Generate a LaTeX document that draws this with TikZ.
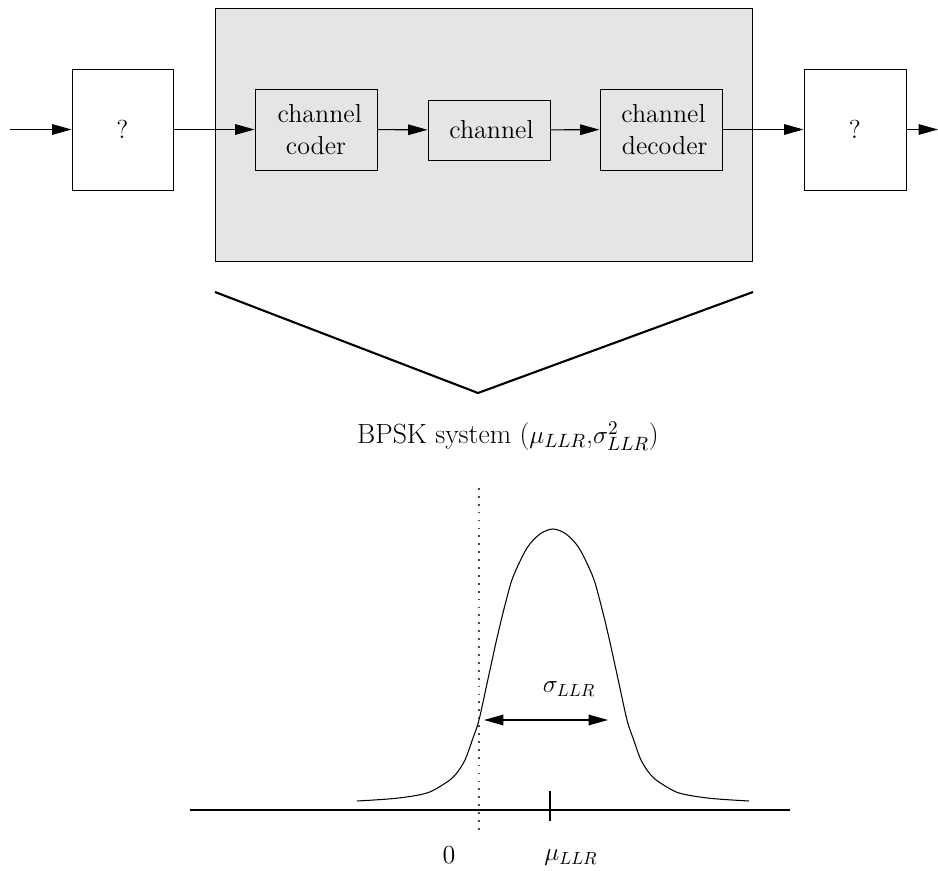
\documentclass[tikz,border=0pt]{standalone}
\usetikzlibrary{arrows.meta}
\definecolor{panelgray}{HTML}{E5E5E5}
\begin{document}
\begin{tikzpicture}[x=0.02cm,y=-0.02cm,
  every node/.style={font=\fontsize{14.8}{18}\selectfont},
  blk/.style={draw,line width=0.55pt,inner sep=0pt,align=center},
  conn/.style={line width=0.6pt,-{Triangle[length=11pt,width=6pt]}},
  dbl/.style={line width=0.6pt,{Triangle[length=11pt,width=6pt]}-{Triangle[length=11pt,width=6pt]}}]
\useasboundingbox (0,0) rectangle (938,871);

% coding chain
\node[blk,fill=panelgray,minimum width=10.76cm,minimum height=5.08cm] (sys) at (484,135) {};
\node[blk,minimum width=2.02cm,minimum height=2.42cm] (lq) at (122.5,129.5) {?};
\node[blk,minimum width=2.04cm,minimum height=2.42cm] (rq) at (855,129.5) {?};
\node[blk,minimum width=2.44cm,minimum height=1.62cm] (coder) at (316,129.5) {\hspace*{0.15cm}channel\\coder};
\node[blk,minimum width=2.44cm,minimum height=1.2cm] (chan) at (489,130) {\hspace*{0.1cm}channel};
\node[blk,minimum width=2.44cm,minimum height=1.62cm] (dec) at (661,129.5) {\hspace*{0.1cm}channel\\\hspace*{0.15cm}decoder};
\coordinate (in) at (10,129.5);
\coordinate (out) at (938,129.5);

\draw[conn] (in) -- (lq);
\draw[conn] (lq) -- (coder);
\draw[conn] (coder) -- (chan);
\draw[conn] (chan) -- (dec);
\draw[conn] (dec) -- (rq);
\draw[conn] (rq) -- (out);

% zoom wedge
\coordinate (vl) at (215,292);
\coordinate (vb) at (478,393);
\coordinate (vr) at (753,292);
\draw[line width=1.2pt] (vl) -- (vb) -- (vr);
\node[font=\fontsize{15.8}{19}\selectfont] (title) at (508,436)
  {BPSK system ($\mu_{LLR}$,$\sigma^2_{LLR}$)};

% LLR density
\coordinate (axl) at (190,810);
\coordinate (axr) at (790,810);
\draw[line width=0.6pt] (axl) -- (axr);
\coordinate (zt) at (479,488);
\coordinate (zb) at (479,835);
\draw[line width=0.8pt,black!70,dash pattern=on 1pt off 3.5pt] (zt) -- (zb);
\coordinate (tt) at (550,791);
\coordinate (tb) at (550,821);
\draw[line width=0.6pt] (tt) -- (tb);
\draw[line width=0.6pt] plot[smooth] coordinates {
  (357,801) (396,798.3) (427,793) (447,782) (456,774) (465,760)
  (473,738) (479,720) (488,679) (497,638) (505,605) (513,577)
  (527,548) (540,534) (553,529) (566,534) (579,548) (593,577)
  (601,605) (609,638) (618,679) (627,720) (633,738) (641,760)
  (650,774) (659,782) (679,793) (710,798.3) (749,801)};
\coordinate (sl) at (484,720);
\coordinate (sr) at (608,720);
\draw[dbl] (sl) -- (sr);
\node (sig) at (569,689) {$\sigma_{LLR}$};
\node (zero) at (449,855) {0};
\node (mu) at (571,858) {$\mu_{LLR}$};
\end{tikzpicture}
\end{document}
